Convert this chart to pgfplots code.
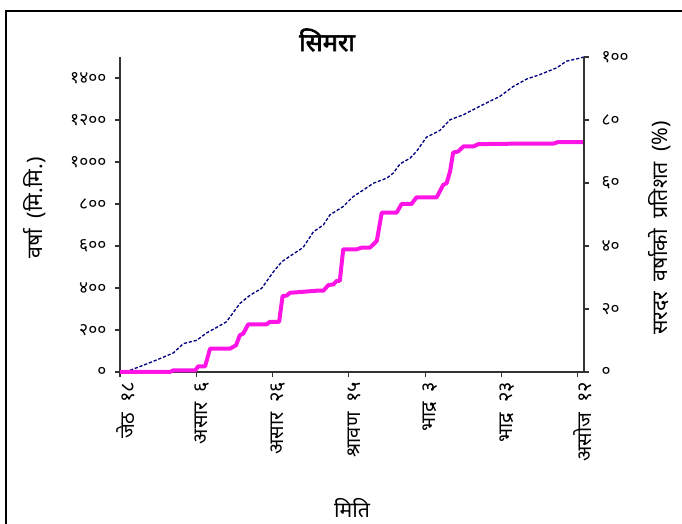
\documentclass[border=0pt]{standalone}
\usepackage{fontspec}
\setmainfont{Noto Sans}[Script=Devanagari]
\newfontfamily\titlefont[Script=Devanagari,FakeBold=2.5]{Noto Sans}
\usepackage{pgfplots}
\pgfplotsset{compat=1.18}
\definecolor{mag}{RGB}{255,20,230}
\definecolor{nav}{RGB}{0,0,128}
\begin{document}
\begin{tikzpicture}
\path[use as bounding box] (0pt,0pt) rectangle (511.5pt,393pt);
\draw[line width=0.9pt] (4.5pt,-50pt) -- (4.5pt,384.75pt) -- (600pt,384.75pt);
\begin{axis}[at={(90pt,114pt)}, anchor=south west, scale only axis,
  width=348pt, height=236.25pt,
  xmin=0, xmax=121.6, ymin=0, ymax=1500,
  axis x line*=bottom, axis y line*=left,
  axis line style={line width=0.8pt, black!80},
  tick style={line width=0.8pt, black!80},
  tick align=outside, major tick length=3.75pt,
  xtick={0,20,...,120},
  xticklabels={जेठ\enspace १८, असार\enspace ६, असार\enspace २६, श्रावण\enspace १५, भाद्र\enspace ३, भाद्र\enspace २३, असोज\enspace १२},
  xticklabel style={rotate=90, anchor=east, yshift=-4pt, font=\fontsize{15}{17}\selectfont},
  ytick={0,200,...,1400},
  yticklabels={०,२००,४००,६००,८००,१०००,१२००,१४००},
  yticklabel style={xshift=-3pt, font=\fontsize{13}{15}\selectfont},
  clip=false]
\addplot[nav, line width=1pt, dash pattern=on 2.4pt off 1.4pt] coordinates {
(0,0) (2.6,8) (6.1,32) (10.5,64) (14.0,91) (16.6,135) (20.1,151) (22.7,186)
(25.3,212) (27.9,239) (31.4,326) (34.1,366) (37.1,398) (40.2,477) (42.4,525)
(45.0,557) (48.0,593) (50.7,668) (53.3,700) (55.0,748) (58.5,788) (61.1,835)
(63.8,867) (66.4,899) (69.9,923) (71.6,947) (73.4,991) (76.0,1018) (77.7,1050)
(80.3,1118) (83.8,1150) (86.5,1201) (90.0,1225) (93.4,1257) (96.9,1289)
(99.6,1313) (103.1,1360) (106.6,1395) (110.0,1416) (114.4,1448) (117.0,1480)
(119.7,1491) (121.6,1500)
};
\addplot[mag, line width=3pt, line join=round] coordinates {
(0,0) (13.1,0) (14.0,8) (19.7,8) (20.5,27) (22.3,27) (23.6,111) (28.8,111)
(30.4,127) (31.4,175) (32.3,183) (33.6,227) (38.4,227) (39.3,239) (41.7,239)
(42.6,361) (43.7,364) (44.5,377) (48.0,382) (51.5,387) (53.3,387) (54.6,414)
(55.9,417) (56.8,434) (57.6,434) (58.5,584) (62.0,584) (63.3,592) (65.5,592)
(67.3,624) (68.6,759) (72.5,759) (73.8,800) (76.4,800) (77.7,832) (83.0,832)
(84.7,891) (85.6,899) (86.5,955) (87.3,1045) (88.6,1050) (90.0,1074) (92.6,1074)
(93.9,1085) (102.2,1087) (113.5,1087) (114.8,1095) (121.6,1095)
};
\end{axis}
\begin{axis}[at={(90pt,114pt)}, anchor=south west, scale only axis,
  width=348pt, height=236.25pt,
  xmin=0, xmax=121.6, ymin=0, ymax=100,
  axis x line=none, axis y line*=right,
  axis line style={line width=0.8pt, black!80},
  tick style={line width=0.8pt, black!80},
  tick align=outside, major tick length=3.75pt,
  ytick={0,20,...,100},
  yticklabels={०,२०,४०,६०,८०,१००},
  yticklabel style={xshift=6pt, font=\fontsize{13}{15}\selectfont}]
\end{axis}
\node[font=\titlefont\fontsize{19}{22}\selectfont] at (245.25pt,363pt) {सिमरा};
\node[rotate=90, font=\fontsize{16}{18}\selectfont] at (26.25pt,237pt) {वर्षा\enspace(मि.मि.)};
\node[rotate=90, font=\fontsize{16}{18}\selectfont] at (495pt,222pt) {सरदर\enspace वर्षाको\enspace प्रतिशत\enspace(\%)};
\node[font=\fontsize{16}{18}\selectfont] at (264pt,12pt) {मिति};
\end{tikzpicture}
\end{document}
